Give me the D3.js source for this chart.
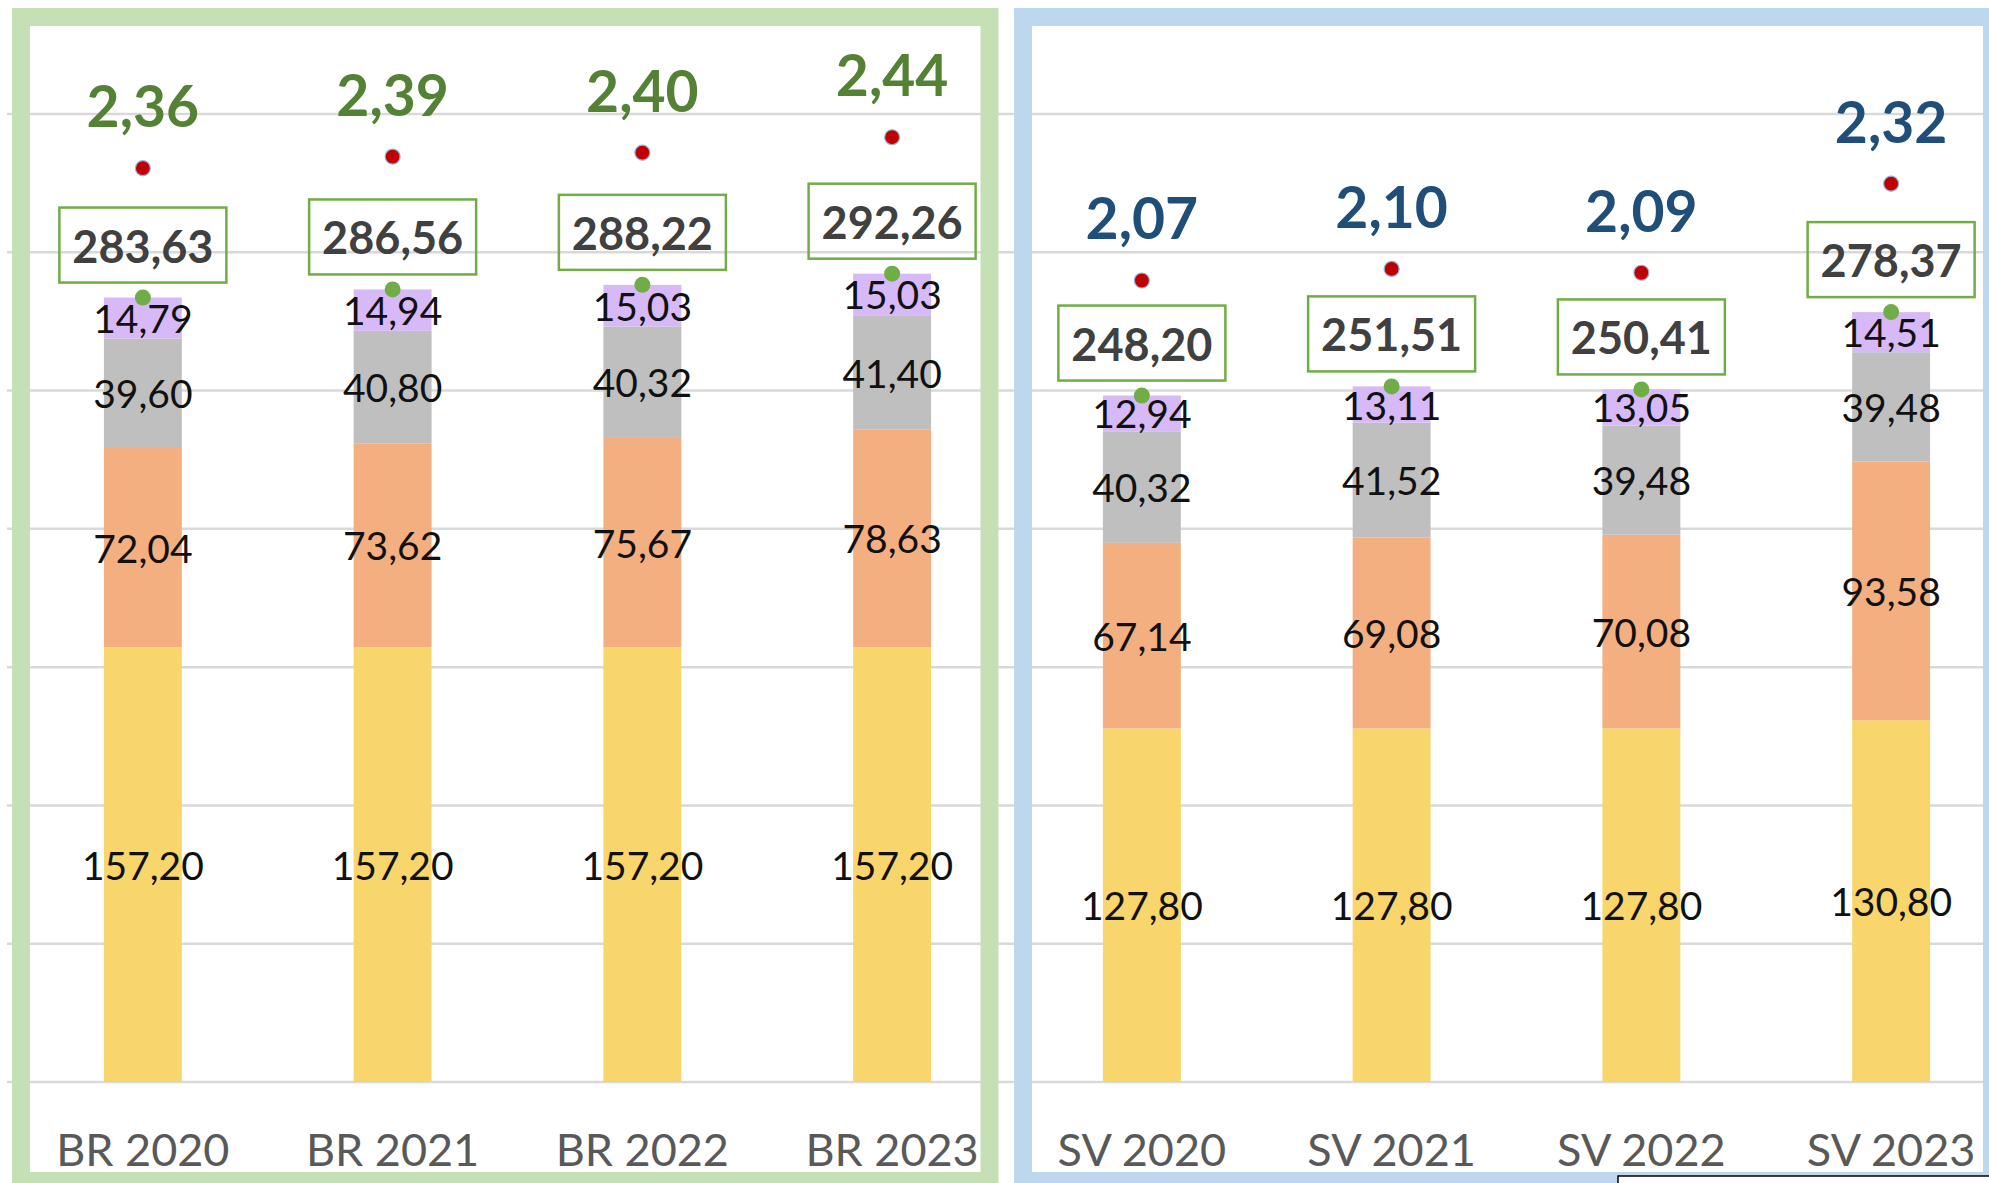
<!DOCTYPE html>
<html>
<head>
<meta charset="utf-8">
<script src="https://cdn.jsdelivr.net/npm/d3@7"></script>
<style>
  html, body { margin: 0; padding: 0; background: #fff; }
  svg { display: block; font-family: Lato, "Open Sans", sans-serif; }
</style>
</head>
<body>
<div id="chart"></div>
<script>
// Categories (two groups of four years)
const categories = ['BR 2020', 'BR 2021', 'BR 2022', 'BR 2023', 'SV 2020', 'SV 2021', 'SV 2022', 'SV 2023'];
const groupOf = ['BR', 'BR', 'BR', 'BR', 'SV', 'SV', 'SV', 'SV'];

// Stacked segments, bottom to top
const baseValues   = [157.20, 157.20, 157.20, 157.20, 127.80, 127.80, 127.80, 130.80];
const secondValues = [72.04, 73.62, 75.67, 78.63, 67.14, 69.08, 70.08, 93.58];
const thirdValues  = [39.60, 40.80, 40.32, 41.40, 40.32, 41.52, 39.48, 39.48];
const topValues    = [14.79, 14.94, 15.03, 15.03, 12.94, 13.11, 13.05, 14.51];

// Totals (green markers with boxed labels) and ratio (red markers, secondary axis)
const totalValues = [283.63, 286.56, 288.22, 292.26, 248.20, 251.51, 250.41, 278.37];
const ratioValues = [2.36, 2.39, 2.40, 2.44, 2.07, 2.10, 2.09, 2.32];

const gridTicks = [0, 50, 100, 150, 200, 250, 300, 350];

const seriesKeys = ['base', 'second', 'third', 'top'];
const seriesColors = { base: '#F8D66B', second: '#F3AF80', third: '#BFBFBF', top: '#D7B9F8' };
const ratioColors = { BR: '#548235', SV: '#1F4E79' };

const width = 1989;
const height = 1183;

const fmt = d3.formatLocale({ decimal: ',', thousands: '.', grouping: [3], currency: ['', ''] }).format('.2f');

const rows = categories.map((c, i) => ({
  category: c,
  group: groupOf[i],
  base: baseValues[i],
  second: secondValues[i],
  third: thirdValues[i],
  top: topValues[i],
  total: totalValues[i],
  ratio: ratioValues[i]
}));

const svg = d3.select('#chart')
  .append('svg')
  .attr('width', width)
  .attr('height', height);

svg.append('rect').attr('width', width).attr('height', height).attr('fill', '#fff');

const x = d3.scaleBand()
  .domain(categories)
  .range([18, 2016])
  .paddingInner(0.688)
  .paddingOuter(0.344);

const y = d3.scaleLinear().domain([0, 350]).range([1082, 114]);
const y2 = d3.scaleLinear().domain([0, 2.5]).range([1082, 114]);

// gridlines
svg.append('g')
  .selectAll('line')
  .data(gridTicks)
  .join('line')
  .attr('x1', 7)
  .attr('x2', width)
  .attr('y1', d => y(d))
  .attr('y2', d => y(d))
  .attr('stroke', '#D9D9D9')
  .attr('stroke-width', 2.5);

// stacked bars
const stacked = d3.stack().keys(seriesKeys)(rows);

const layer = svg.append('g')
  .selectAll('g')
  .data(stacked)
  .join('g')
  .attr('fill', d => seriesColors[d.key]);

layer.selectAll('rect')
  .data(d => d)
  .join('rect')
  .attr('x', d => x(d.data.category))
  .attr('width', x.bandwidth())
  .attr('y', d => y(d[1]))
  .attr('height', d => y(d[0]) - y(d[1]));

// panel frames
svg.append('rect')
  .attr('x', 21).attr('y', 17)
  .attr('width', 968.5).attr('height', 1164)
  .attr('fill', 'none')
  .attr('stroke', '#C5E0B4')
  .attr('stroke-width', 18);

svg.append('rect')
  .attr('x', 1023).attr('y', 17)
  .attr('width', 969).attr('height', 1164)
  .attr('fill', 'none')
  .attr('stroke', '#BDD7EE')
  .attr('stroke-width', 18);

// segment labels
layer.selectAll('text')
  .data(d => d)
  .join('text')
  .attr('x', d => x(d.data.category) + x.bandwidth() / 2)
  .attr('y', d => (y(d[0]) + y(d[1])) / 2)
  .attr('text-anchor', 'middle')
  .attr('dominant-baseline', 'central')
  .attr('fill', '#111')
  .attr('font-size', 39)
  .text(d => fmt(d[1] - d[0]));

// total markers + boxed labels
const totals = svg.append('g')
  .selectAll('g')
  .data(rows)
  .join('g')
  .attr('transform', d => `translate(${x(d.category) + x.bandwidth() / 2},${y(d.total)})`);

totals.append('rect')
  .attr('x', -83.5)
  .attr('y', -90)
  .attr('width', 167)
  .attr('height', 75)
  .attr('fill', 'none')
  .attr('stroke', '#70AD47')
  .attr('stroke-width', 2.5);

totals.append('text')
  .attr('y', -52)
  .attr('text-anchor', 'middle')
  .attr('dominant-baseline', 'central')
  .attr('font-size', 45)
  .attr('font-weight', 700)
  .attr('fill', '#404040')
  .text(d => fmt(d.total));

totals.append('circle')
  .attr('r', 8)
  .attr('fill', '#70AD47');

// ratio markers + labels
const ratios = svg.append('g')
  .selectAll('g')
  .data(rows)
  .join('g')
  .attr('transform', d => `translate(${x(d.category) + x.bandwidth() / 2},${y2(d.ratio)})`);

ratios.append('circle')
  .attr('r', 7.5)
  .attr('fill', '#C00000')
  .attr('stroke', '#8FB4E3')
  .attr('stroke-width', 1.2);

ratios.append('text')
  .attr('y', -41)
  .attr('text-anchor', 'middle')
  .attr('font-size', 57)
  .attr('font-weight', 700)
  .attr('fill', d => ratioColors[d.group])
  .text(d => fmt(d.ratio));

// category axis labels
svg.append('g')
  .selectAll('text')
  .data(categories)
  .join('text')
  .attr('x', d => x(d) + x.bandwidth() / 2)
  .attr('y', 1149)
  .attr('text-anchor', 'middle')
  .attr('dominant-baseline', 'central')
  .attr('font-size', 45)
  .attr('fill', '#595959')
  .text(d => d);

// small boxed element at bottom right corner
svg.append('rect')
  .attr('x', 1618).attr('y', 1176)
  .attr('width', 400).attr('height', 30)
  .attr('fill', '#fff')
  .attr('stroke', '#000')
  .attr('stroke-width', 1.5);
</script>
</body>
</html>
